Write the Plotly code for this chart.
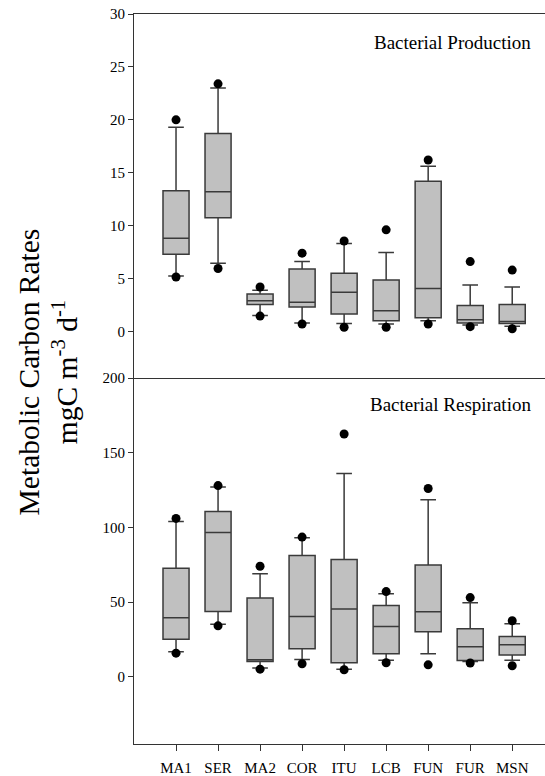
import plotly.graph_objects as go

sites = ["MA1", "SER", "MA2", "COR", "ITU", "LCB", "FUN", "FUR", "MSN"]

# Bacterial Production (mgC m-3 d-1)
bp_top_dot = [20.0, 23.4, 4.2, 7.4, 8.55, 9.6, 16.2, 6.6, 5.8]
bp_upper = [19.3, 23.0, 3.9, 6.6, 8.3, 7.45, 15.6, 4.4, 4.2]
bp_q3 = [13.3, 18.7, 3.55, 5.9, 5.5, 4.85, 14.2, 2.45, 2.55]
bp_median = [8.8, 13.2, 2.9, 2.75, 3.7, 1.95, 4.05, 1.1, 0.95]
bp_q1 = [7.3, 10.75, 2.55, 2.3, 1.65, 1.0, 1.3, 0.8, 0.75]
bp_lower = [5.25, 6.45, 1.5, 0.8, 0.75, 0.7, 1.0, 0.6, 0.5]
bp_bot_dot = [5.15, 5.95, 1.45, 0.7, 0.4, 0.4, 0.7, 0.45, 0.25]

# Bacterial Respiration (mgC m-3 d-1)
br_top_dot = [106.0, 128.0, 74.0, 93.5, 162.5, 57.0, 126.0, 53.0, 37.5]
br_upper = [104.0, 127.0, 69.0, 93.0, 136.0, 55.5, 118.5, 49.5, 35.5]
br_q3 = [72.7, 110.6, 52.8, 81.2, 78.5, 47.7, 74.9, 32.1, 27.0]
br_median = [39.5, 96.5, 11.4, 40.3, 45.3, 33.7, 43.5, 20.1, 21.4]
br_q1 = [25.2, 43.7, 10.2, 18.7, 9.4, 15.4, 30.1, 10.9, 14.5]
br_lower = [16.7, 35.2, 5.8, 11.6, 5.1, 11.1, 15.4, 10.2, 11.1]
br_bot_dot = [15.8, 34.1, 5.1, 8.7, 4.7, 9.4, 8.0, 9.2, 7.4]

FONT = "Liberation Serif"
xs = list(range(len(sites)))

fig = go.Figure()

def add_panel(xaxis, yaxis, q1, med, q3, lo, hi, dtop, dbot):
    fig.add_trace(go.Box(
        x=xs, q1=q1, median=med, q3=q3, lowerfence=lo, upperfence=hi,
        boxpoints=False, width=0.62, whiskerwidth=0.6,
        fillcolor="#c0c0c0", line=dict(color="#3a3a3a", width=1.5),
        xaxis=xaxis, yaxis=yaxis, showlegend=False, hoverinfo="skip",
    ))
    fig.add_trace(go.Scatter(
        x=xs + xs, y=dtop + dbot, mode="markers",
        marker=dict(color="black", size=9),
        xaxis=xaxis, yaxis=yaxis, showlegend=False, hoverinfo="skip",
    ))

add_panel("x2", "y2", bp_q1, bp_median, bp_q3, bp_lower, bp_upper, bp_top_dot, bp_bot_dot)
add_panel("x", "y", br_q1, br_median, br_q3, br_lower, br_upper, br_top_dot, br_bot_dot)

split = 366 / 730
xrange = [-1.0, 8.78]
tickfont = dict(family=FONT, size=15, color="black")

fig.update_layout(
    width=545, height=776,
    margin=dict(l=134, r=0, t=14, b=32, autoexpand=False),
    paper_bgcolor="white", plot_bgcolor="white",
    font=dict(family=FONT, color="black", size=15),
    xaxis=dict(
        domain=[0, 1], range=xrange, anchor="y",
        tickvals=xs, ticktext=sites, ticks="outside", ticklen=6,
        tickcolor="#333", tickfont=tickfont, ticklabelstandoff=4,
        showline=True, linecolor="#333", linewidth=1.2,
        showgrid=False, zeroline=False,
    ),
    yaxis=dict(
        domain=[0, split], range=[-45, 200], anchor="x",
        tickvals=[0, 50, 100, 150, 200], ticks="outside", ticklen=5,
        tickcolor="#333", tickfont=tickfont,
        showline=True, linecolor="#333", linewidth=1.2,
        showgrid=False, zeroline=False,
    ),
    xaxis2=dict(
        domain=[0, 1], range=xrange, anchor="y2",
        showticklabels=False, ticks="",
        showline=True, mirror=True, linecolor="#333", linewidth=1.2,
        showgrid=False, zeroline=False,
    ),
    yaxis2=dict(
        domain=[split, 1], range=[-4.4, 30], anchor="x2",
        tickvals=[0, 5, 10, 15, 20, 25, 30], ticks="outside", ticklen=5,
        tickcolor="#333", tickfont=tickfont,
        showline=True, linecolor="#333", linewidth=1.2,
        showgrid=False, zeroline=False,
    ),
    annotations=[
        dict(text="Bacterial Production", xref="x2", yref="y2", x=8.5, y=27.3,
             xanchor="right", yanchor="middle", showarrow=False,
             font=dict(family=FONT, size=19, color="black")),
        dict(text="Bacterial Respiration", xref="x", yref="y", x=8.5, y=182,
             xanchor="right", yanchor="middle", showarrow=False,
             font=dict(family=FONT, size=19, color="black")),
        dict(text="Metabolic Carbon Rates<br>mgC m<sup>-3</sup> d<sup>-1</sup>",
             xref="paper", yref="paper", x=-0.21, y=0.51,
             xanchor="center", yanchor="middle", textangle=-90, showarrow=False,
             font=dict(family=FONT, size=29.5, color="black")),
    ],
)

fig.write_html("out.html", config={"displayModeBar": False},
               post_script="document.body.style.margin='0';")
